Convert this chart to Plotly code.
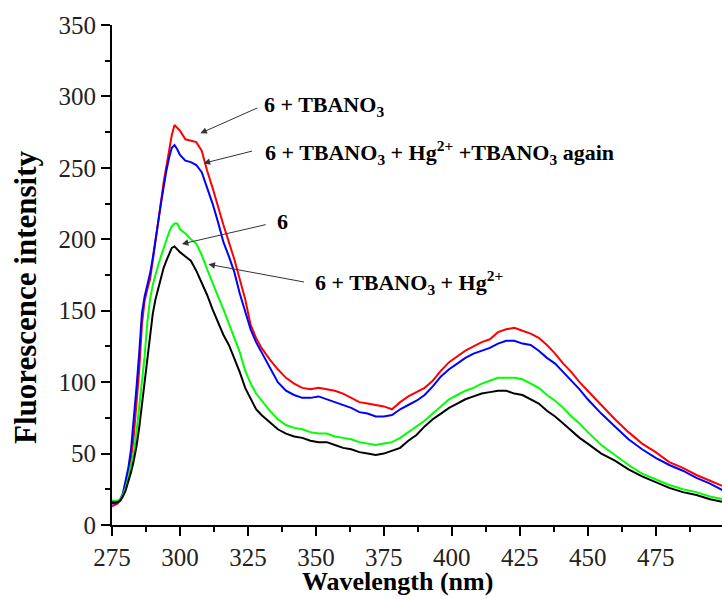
import plotly.graph_objects as go

wavelength = [275, 276, 277, 278, 279, 280, 281, 282, 283, 284, 285, 286, 287, 288, 289, 290,
              291, 292, 293, 294, 295, 296, 297, 298, 299, 300, 302, 304, 306, 308, 310, 312,
              314, 316, 318, 320, 322, 324, 326, 328, 330, 333, 336, 339, 342, 345, 348, 351,
              354, 357, 360, 363, 366, 369, 372, 375, 378, 381, 384, 387, 390, 393, 396, 399,
              402, 405, 408, 411, 414, 417, 420, 423, 426, 429, 432, 435, 438, 441, 444, 447,
              450, 455, 460, 465, 470, 475, 480, 485, 490, 495, 500]

red_tbano3 = [13, 14, 15, 17, 21, 28, 37, 47, 62, 84, 108, 140, 157, 165, 172, 185,
              200, 213, 226, 240, 250, 262, 273, 280, 278, 276, 270, 269, 268, 262, 248, 236,
              222, 210, 198, 186, 172, 158, 140, 131, 124, 116, 109, 103, 99, 96, 95, 96,
              95, 94, 92, 89, 86, 85, 84, 83, 81, 86, 90, 93, 96, 101, 108, 114,
              118, 122, 125, 128, 130, 135, 137, 138, 136, 134, 131, 126, 120, 113, 107, 100,
              94, 84, 74, 65, 57, 51, 44, 40, 35, 31, 27]

blue_again = [15, 15, 16, 18, 22, 30, 40, 53, 72, 96, 120, 148, 160, 168, 176, 187,
              198, 212, 225, 238, 248, 257, 264, 266, 263, 259, 255, 254, 252, 247, 236, 225,
              212, 198, 188, 177, 162, 149, 137, 128, 121, 110, 100, 94, 91, 89, 89, 90,
              88, 86, 84, 82, 79, 78, 76, 76, 77, 81, 84, 87, 91, 97, 104, 109,
              113, 117, 120, 122, 124, 127, 129, 129, 127, 126, 122, 117, 113, 107, 101, 95,
              88, 78, 69, 60, 53, 47, 42, 38, 33, 29, 24]

green_6 = [17, 17, 17, 18, 21, 26, 33, 42, 50, 65, 82, 100, 118, 142, 158, 168,
           176, 182, 188, 194, 200, 205, 209, 211, 211, 207, 204, 200, 197, 189, 179, 169,
           160, 151, 141, 131, 121, 108, 99, 92, 87, 80, 74, 70, 68, 67, 65, 64,
           64, 62, 61, 60, 58, 57, 56, 57, 58, 61, 65, 69, 73, 78, 83, 88,
           91, 94, 96, 99, 101, 103, 103, 103, 102, 99, 96, 91, 87, 82, 76, 71,
           65, 56, 49, 42, 36, 32, 28, 25, 23, 20, 18]

black_hg = [16, 16, 16, 17, 20, 24, 30, 37, 45, 55, 68, 84, 100, 118, 135, 148,
            158, 166, 174, 180, 185, 190, 194, 195, 193, 191, 188, 185, 178, 170, 161, 151,
            142, 133, 126, 117, 107, 96, 88, 81, 77, 72, 67, 64, 62, 61, 59, 58,
            58, 56, 54, 53, 51, 50, 49, 50, 52, 54, 59, 63, 69, 74, 78, 82,
            85, 88, 90, 92, 93, 94, 94, 92, 91, 88, 85, 80, 76, 71, 66, 61,
            57, 50, 45, 39, 34, 30, 26, 23, 21, 18, 16]

series = [
    ("6 + TBANO3", red_tbano3, "#FF0000"),
    ("6 + TBANO3 + Hg2+ + TBANO3 again", blue_again, "#0000FF"),
    ("6", green_6, "#00FF00"),
    ("6 + TBANO3 + Hg2+", black_hg, "#000000"),
]

x_ticks = [275, 300, 325, 350, 375, 400, 425, 450, 475]
y_ticks = [0, 50, 100, 150, 200, 250, 300, 350]

# labels: (text, text_x, text_y, tail_x, tail_y, head_x, head_y)
labels = [
    ("6 + TBANO<sub>3</sub>", 330.3, 293.5, 329.0, 292.4, 307.5, 274.2),
    ("6 + TBANO<sub>3</sub> + Hg<sup>2+</sup> +TBANO<sub>3</sub> again", 330.6, 261.0, 327.1, 262.0, 308.7, 253.2),
    ("6", 335.1, 212.5, 332.1, 210.5, 300.7, 196.7),
    ("6 + TBANO<sub>3</sub> + Hg<sup>2+</sup>", 349.0, 169.5, 346.2, 169.9, 310.5, 182.5),
]

FONT = "Liberation Serif, Times New Roman, serif"

fig = go.Figure()
for name, vals, color in series:
    fig.add_trace(go.Scatter(x=wavelength, y=vals, mode="lines", name=name,
                             line=dict(color=color, width=2), showlegend=False))

for text, tx, ty, ax_, ay_, hx, hy in labels:
    fig.add_annotation(x=hx, y=hy, ax=ax_, ay=ay_, xref="x", yref="y", axref="x", ayref="y",
                       text="", showarrow=True, arrowhead=2, arrowsize=1.3, arrowwidth=1,
                       arrowcolor="#333333", standoff=0, startstandoff=0)
    fig.add_annotation(x=tx, y=ty, xref="x", yref="y", text="<b>" + text + "</b>",
                       showarrow=False, xanchor="left", yanchor="middle",
                       font=dict(family=FONT, size=22, color="black"))

# axis titles placed in paper coordinates (plot area: x 112..722 px, y 25..525 px)
fig.add_annotation(x=(397 - 112) / 610, y=-(581 - 525) / 500, xref="paper", yref="paper",
                   text="<b>Wavelength (nm)</b>", showarrow=False,
                   xanchor="center", yanchor="middle",
                   font=dict(family=FONT, size=26, color="black"))
fig.add_annotation(x=(25 - 112) / 610, y=(525 - 297) / 500, xref="paper", yref="paper",
                   text="<b>Fluorescence intensity</b>", showarrow=False, textangle=-90,
                   xanchor="center", yanchor="middle",
                   font=dict(family=FONT, size=31, color="black"))

fig.update_layout(
    width=722, height=599,
    margin=dict(l=112, r=0, t=25, b=74),
    paper_bgcolor="white", plot_bgcolor="white",
    font=dict(family=FONT, size=25, color="black"),
    xaxis=dict(range=[275, 499.4], tickvals=x_ticks, ticks="outside", ticklen=9, tickwidth=2,
               tickcolor="black", showline=True, linewidth=2, linecolor="black",
               showgrid=False, zeroline=False,
               minor=dict(ticks="outside", ticklen=5, tickwidth=2, tickcolor="black", dtick=12.5, tick0=275),
               tickfont=dict(family=FONT, size=25, color="#222222")),
    yaxis=dict(range=[0, 350], tickvals=y_ticks, ticks="outside", ticklen=9, tickwidth=2,
               tickcolor="black", showline=True, linewidth=2, linecolor="black",
               showgrid=False, zeroline=False,
               minor=dict(ticks="outside", ticklen=5, tickwidth=2, tickcolor="black", dtick=25, tick0=0),
               tickfont=dict(family=FONT, size=25, color="#222222")),
)

fig.write_html("out.html")
